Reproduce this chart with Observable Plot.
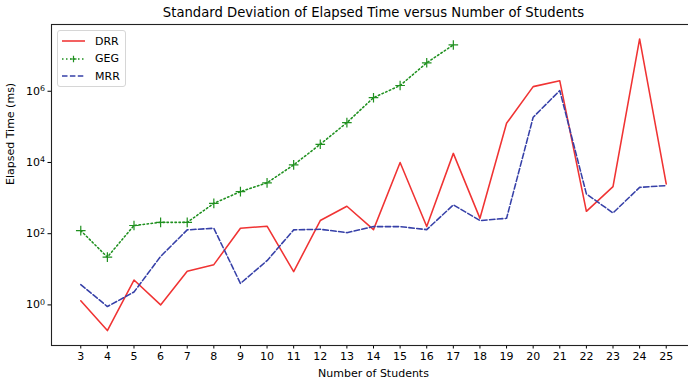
<!DOCTYPE html>
<html>
<head>
<meta charset="utf-8">
<script src="https://cdn.jsdelivr.net/npm/d3@7"></script>
<script src="https://cdn.jsdelivr.net/npm/@observablehq/plot@0.6"></script>
<style>
  html, body { margin: 0; padding: 0; background: #fff; }
  body { width: 688px; height: 382px; overflow: hidden; font-family: "DejaVu Sans", sans-serif; }
  #chart { position: relative; width: 688px; height: 382px; }
  #legend {
    position: absolute; left: 57px; top: 30px; width: 67px; height: 55px;
    border: 1px solid #d6d6d6; border-radius: 3px; background: rgba(255,255,255,0.85);
    font-size: 11px; color: #000;
  }
  .item { position: absolute; left: 4px; height: 12px; display: flex; align-items: center; }
  .item svg { display: block; }
  .item span { margin-left: 10px; }
</style>
</head>
<body>
<div id="chart"></div>
<script>
// Number of students in each run
const students = [3, 4, 5, 6, 7, 8, 9, 10, 11, 12, 13, 14, 15, 16, 17, 18, 19, 20, 21, 22, 23, 24, 25];
// Standard deviation of elapsed time (ms) per algorithm
const drr = [1.3, 0.19, 5, 1.0, 8.8, 13.5, 142, 162, 8.6, 234, 590, 130, 10000, 160, 18000, 270, 126000, 1350000, 1960000, 425, 2100, 29500000, 2500];
const mrr = [3.7, 0.9, 2.3, 23, 128, 142, 4.0, 17.5, 128, 133, 107, 158, 158, 130, 645, 234, 270, 186000, 1050000, 1310, 383, 2000, 2240];
const geg = [122, 22, 170, 208, 208, 710, 1520, 2680, 8560, 32400, 132000, 660000, 1450000, 6300000, 20000000];
const yTicks = [1, 100, 10000, 1000000];

const series = [
  {name: "DRR", values: drr, color: "#f03333", dash: null},
  {name: "GEG", values: geg, color: "#1f901f", dash: "1.5,2.5"},
  {name: "MRR", values: mrr, color: "#3640a8", dash: "5.5,2.4"}
];
const rows = name => {
  const s = series.find(d => d.name === name);
  return s.values.map((v, i) => ({students: students[i], value: v}));
};

const title = "Standard Deviation of Elapsed Time versus Number of Students";
const xLabel = "Number of Students";
const yLabel = "Elapsed Time (ms)";

const chart = Plot.plot({
  width: 688,
  height: 382,
  marginLeft: 51,
  marginRight: -7,
  marginTop: 24,
  marginBottom: 37,
  style: {fontFamily: "DejaVu Sans, sans-serif", fontSize: "11px", color: "#000", background: "#fff"},
  x: {
    domain: [1.9, 26.1],
    ticks: students,
    tickFormat: d => String(d),
    tickSize: 3.5,
    tickPadding: 3,
    label: null,
    line: false
  },
  y: {
    type: "log",
    domain: [Math.pow(10, -1.14), Math.pow(10, 7.875)],
    ticks: yTicks,
    tickFormat: d => "10^" + Math.round(Math.log10(d)),
    tickSize: 3.5,
    tickPadding: 3,
    label: null
  },
  marks: [
    Plot.frame({stroke: "#222", strokeWidth: 1.1}),
    Plot.line(rows("DRR"), {x: "students", y: "value", stroke: series[0].color, strokeWidth: 1.55}),
    Plot.line(rows("GEG"), {x: "students", y: "value", stroke: series[1].color, strokeWidth: 1.55, strokeDasharray: series[1].dash, strokeLinecap: "round"}),
    Plot.dot(rows("GEG"), {x: "students", y: "value", symbol: "plus", r: 3.2, stroke: series[1].color, strokeWidth: 1.2}),
    Plot.line(rows("MRR"), {x: "students", y: "value", stroke: series[2].color, strokeWidth: 1.55, strokeDasharray: series[2].dash}),
    Plot.text([title], {frameAnchor: "top", lineAnchor: "middle", dy: -12, fontSize: 13.2, fill: "#000"}),
    Plot.text([xLabel], {frameAnchor: "bottom", lineAnchor: "middle", dy: 28, fontSize: 11, fill: "#000"}),
    Plot.text([yLabel], {frameAnchor: "left", dx: -41, rotate: -90, fontSize: 11, fill: "#000"})
  ]
});

// Render log tick labels as 10 with a raised exponent
d3.select(chart).selectAll("text").each(function () {
  const t = this.textContent;
  const m = /^10\^(-?\d+)$/.exec(t);
  if (!m) return;
  const sel = d3.select(this);
  const target = sel.select("tspan").empty() ? sel : sel.select("tspan");
  target.text("10");
  target.append("tspan").attr("dy", "-0.45em").attr("font-size", "0.72em").text(m[1]);
});

document.getElementById("chart").appendChild(chart);

// Legend box in the upper-left corner of the plot area
const legend = document.createElement("div");
legend.id = "legend";
series.forEach((s, i) => {
  const item = document.createElement("div");
  item.className = "item";
  item.style.top = (4 + i * 17.5) + "px";
  const dashAttr = s.dash ? ` stroke-dasharray="${s.dash}"` : "";
  const marker = s.name === "GEG"
    ? `<path d="M11.5,2.8V9.2M8.3,6H14.7" stroke="${s.color}" stroke-width="1.2"/>` : "";
  item.innerHTML = `<svg width="23" height="12"><line x1="0" x2="23" y1="6" y2="6" stroke="${s.color}" stroke-width="1.55"${dashAttr}/>${marker}</svg><span>${s.name}</span>`;
  legend.appendChild(item);
});
document.getElementById("chart").appendChild(legend);
</script>
</body>
</html>
